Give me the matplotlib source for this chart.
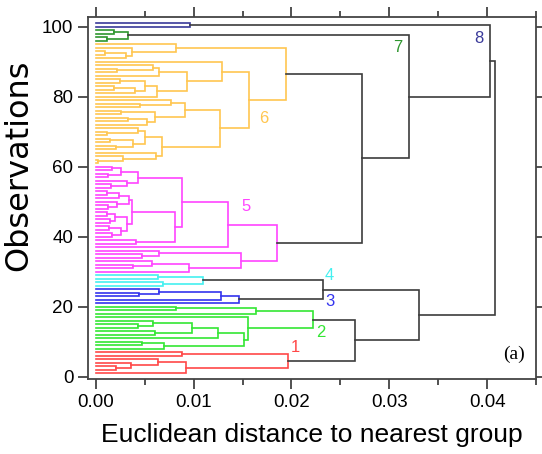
import matplotlib.pyplot as plt
from matplotlib.ticker import MultipleLocator

# merge trees: (distance, lower child, upper child)
# ints are observation numbers (bottom to top)
cluster1 = (0.0196, (0.0092, 1, (0.0064, (0.0036, (0.0021, 2, 3), 4), 5)), (0.0088, 6, 7))
cluster2 = (0.0222,
            (0.0156, (0.0151, (0.0070, 8, (0.0047, 9, 10)),
                      (0.0125, 11, (0.0098, (0.0060, 12, 13), (0.0058, (0.0043, 14, 15), 16)))), 17),
            (0.0164, 18, (0.0082, 19, 20)))
cluster3 = (0.0146, 21, (0.0128, 22, (0.0065, (0.0044, 23, 24), 25)))
cluster4 = (0.0110, (0.0069, 26, 27), (0.0064, 28, 29))
cluster5 = (0.0185,
            (0.0148, (0.0095, 30, (0.0057, (0.0038, 31, 32), 33)), (0.0065, (0.0047, 34, 35), 36)),
            (0.0135, 37,
             (0.0088,
              (0.0081, (0.0041, 38, 39),
               (0.0037,
                (0.0032, (0.0026, (0.0017, 40, 41), (0.0013, 42, 43)),
                 (0.0020, (0.0014, 44, 45), (0.0011, 46, 47))),
                (0.0034, (0.0022, (0.0012, 48, 49), 50), (0.0024, 51, (0.0011, 52, 53))))),
              (0.0043, (0.0032, (0.0016, 54, 55), 56),
               (0.0026, (0.0012, 57, 58), (0.0017, 59, 60))))))
cluster6 = (0.0194,
            (0.0157,
             (0.0127,
              (0.0068, (0.0061, (0.0028, (0.0002, 61, 62), 63), 64),
               (0.0050, (0.0038, (0.0021, 65, 66), (0.0014, 67, 68)), (0.0043, (0.0011, 69, 70), 71))),
              (0.0091, (0.0060, (0.0052, 72, (0.0033, 73, 74)), (0.0026, 75, 76)),
               (0.0077, (0.0045, 77, 78), 79))),
             (0.0129,
              (0.0093,
               (0.0063, 80, (0.0050, (0.0040, 81, (0.0019, 82, 83)), (0.0025, 84, 85))),
               (0.0065, 86, (0.0058, (0.0022, 87, 88), 89))),
              90)),
            (0.0082, (0.0037, (0.0031, 91, (0.0009, 92, 93)), 94), 95))
cluster7 = (0.0033, (0.0011, 96, 97), (0.0019, 98, 99))
cluster8 = (0.0096, 100, 101)

# links between clusters, strings are cluster numbers
upper_tree = (0.0408,
              (0.0330, (0.0265, "1", "2"), (0.0232, "3", "4")),
              (0.0403, (0.0320, (0.0272, "5", "6"), "7"), "8"))

clusters = [cluster1, cluster2, cluster3, cluster4, cluster5, cluster6, cluster7, cluster8]
colors = ["#ff4848", "#33e633", "#3333ee", "#44f0f0", "#ff44ff", "#ffc650", "#2f962f", "#3a3a9a"]
label_names = ["1", "2", "3", "4", "5", "6", "7", "8"]
label_x = [0.0204, 0.0230, 0.0239, 0.0239, 0.0154, 0.0172, 0.0309, 0.0392]
label_y = [8.2, 12.5, 21.4, 28.8, 48.6, 73.8, 94.1, 96.7]

plt.rcParams['font.family'] = ['Liberation Sans', 'DejaVu Sans']

fig = plt.figure(figsize=(5.42, 4.54), dpi=100)
ax = fig.add_axes([0.1624, 0.1645, 0.8266, 0.7975])


def draw(node, color):
    if isinstance(node, int):
        return 0.0, float(node)
    if isinstance(node, str):
        k = int(node) - 1
        return draw(clusters[k], colors[k])
    h, a, b = node
    xa, ya = draw(a, color)
    xb, yb = draw(b, color)
    ax.plot([xa, h, h, xb], [ya, ya, yb, yb], color=color, lw=1.2, solid_joinstyle='miter')
    return h, (ya + yb) / 2


draw(upper_tree, "#3c3c3c")

for name, x, y, c in zip(label_names, label_x, label_y, colors):
    ax.text(x, y, name, color=c, fontsize=12, ha='center', va='center')

ax.text(0.0427, 6.4, "(a)", fontsize=14, family='Liberation Serif', ha='center', va='center')

ax.set_xlim(-0.0008, 0.045)
ax.set_ylim(-0.75, 102.7)
ax.xaxis.set_minor_locator(MultipleLocator(0.005))
ax.yaxis.set_major_locator(MultipleLocator(20))
ax.set_xticks([0, 0.01, 0.02, 0.03, 0.04])
ax.set_xticklabels(["0.00", "0.01", "0.02", "0.03", "0.04"])
ax.tick_params(which='both', direction='out', top=True, right=True, labelsize=13.5, color='#333333', width=1.2)
ax.tick_params(which='major', length=7)
ax.tick_params(which='minor', length=4)
for s in ax.spines.values():
    s.set_color('#444444')
    s.set_linewidth(1.3)

ax.set_xlabel("Euclidean distance to nearest group", fontsize=19, labelpad=9)
fig.text(19 / 542, 1 - 165 / 454, "Observations", rotation=90, fontsize=23,
         family='DejaVu Sans', ha='center', va='center')

fig.savefig("out.png", dpi=100)
